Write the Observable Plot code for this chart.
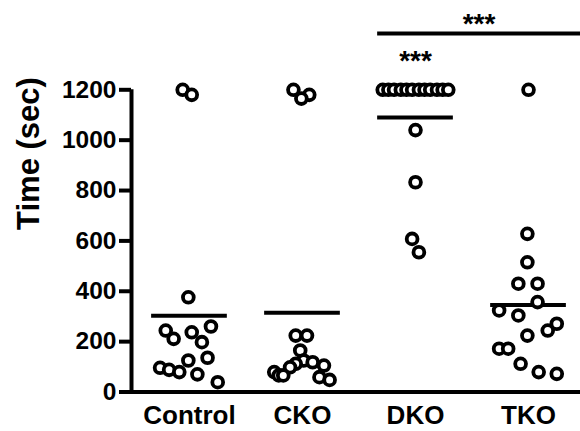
<!DOCTYPE html>
<html><head><meta charset="utf-8">
<script src="https://cdn.jsdelivr.net/npm/d3@7"></script>
<script src="https://cdn.jsdelivr.net/npm/@observablehq/plot@0.6"></script>
<style>
html,body{margin:0;padding:0;background:#fff;}
svg text{font-weight:bold;}
</style></head><body><div id="chart"></div>
<script>
const categories = ["Control","CKO","DKO","TKO"];
const yTicks = [0,200,400,600,800,1000,1200];

const controlTime   = [1200,1180,376,244,211,237,260,198,136,125,96,88,79,70,39];
const controlJitter = [-0.06,0.02,-0.01,-0.21,-0.14,0.02,0.19,0.11,0.16,-0.01,-0.26,-0.18,-0.09,0.07,0.25];
const ckoTime   = [1200,1180,1165,224,224,165,125,112,98,118,105,59,48,79,66,66];
const ckoJitter = [-0.08,0.06,-0.01,-0.06,0.04,-0.02,0.01,-0.06,-0.11,0.09,0.19,0.15,0.24,-0.25,-0.21,-0.17];
const dkoTime   = [1200,1200,1200,1200,1200,1200,1200,1200,1200,1200,1200,1200,1040,833,608,555];
const dkoJitter = [-0.29,-0.24,-0.19,-0.13,-0.08,-0.03,0.03,0.08,0.13,0.19,0.24,0.29,0,0,-0.03,0.03];
const tkoTime   = [1200,628,515,430,430,357,324,304,271,244,224,172,172,112,79,72];
const tkoJitter = [0,-0.01,-0.01,-0.09,0.08,0.08,-0.26,-0.09,0.25,0.17,-0.01,-0.26,-0.18,-0.07,0.09,0.25];

const sigLabels = ["***","***"];
const yLabel = "Time (sec)";

const groups = [[controlTime,controlJitter],[ckoTime,ckoJitter],[dkoTime,dkoJitter],[tkoTime,tkoJitter]];
const points = groups.flatMap(([t,j],i) => t.map((v,k) => ({i, time: v, jitter: j[k]})));
const means = groups.map(([t],i) => ({i, mean: d3.mean(t)}));

const xMin = -0.513, xMax = 3.46, half = 0.335;
const sigDko = {x: 2, y: 1315, label: sigLabels[0]};
const sigBar = {x1: 2 - half, x2: xMax, y: 1424};
const sigTop = {x: (2 - half + xMax) / 2, y: 1462, label: sigLabels[1]};

const chart = Plot.plot({
  width: 580, height: 431,
  marginLeft: 131, marginRight: 0, marginTop: 89.3, marginBottom: 39.5,
  style: {fontFamily: "'Liberation Sans', Arial, sans-serif", fontWeight: "bold", color: "#000", background: "#fff", overflow: "visible"},
  x: {domain: [xMin, xMax], axis: null},
  y: {domain: [0, 1200], axis: null},
  marks: [
    Plot.axisX({ticks: categories.map((d,i) => i), tickFormat: i => categories[i], tickSize: 0, tickPadding: 14, fontSize: 26, label: null}),
    Plot.axisY({ticks: yTicks, tickFormat: d => String(d), tickSize: 12, tickPadding: 3, strokeWidth: 4, fontSize: 24.5, label: null}),
    Plot.ruleX([xMin], {y1: 0, y2: 1200, strokeWidth: 4}),
    Plot.ruleY([0], {x1: xMin, x2: xMax, strokeWidth: 4}),
    Plot.ruleY(means, {x1: d => d.i - half, x2: d => d.i + half, y: "mean", strokeWidth: 4}),
    Plot.dot(points, {x: d => d.i + d.jitter, y: "time", r: 5.4, stroke: "black", fill: "white", strokeWidth: 3.8}),
    Plot.ruleY([sigBar], {x1: "x1", x2: "x2", y: "y", strokeWidth: 4}),
    Plot.text([sigDko, sigTop], {x: "x", y: "y", text: "label", fontSize: 28}),
    Plot.text([yLabel], {frameAnchor: "left", rotate: -90, dx: -102, dy: -11, fontSize: 31})
  ]
});
document.getElementById("chart").appendChild(chart);
</script></body></html>
